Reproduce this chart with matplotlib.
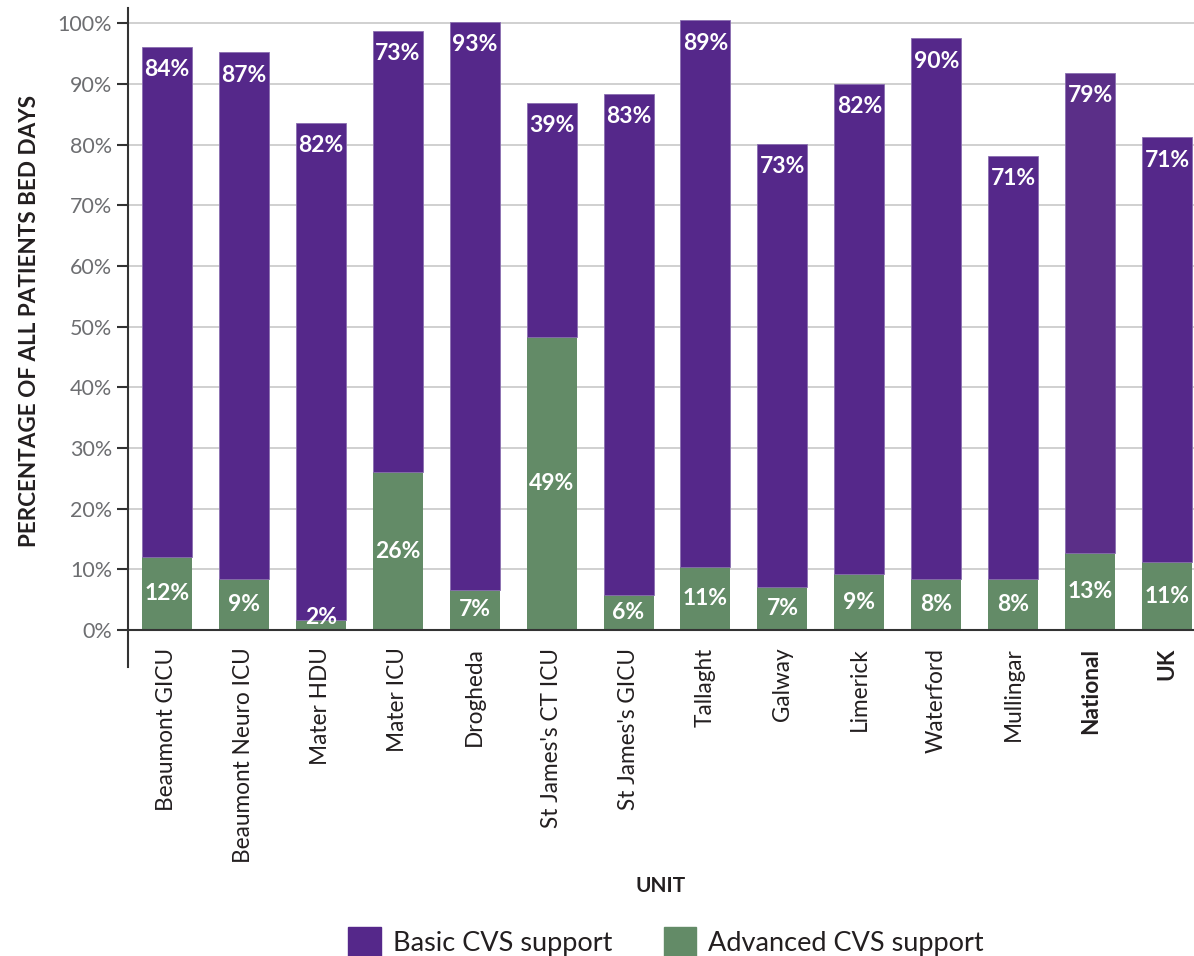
import matplotlib
matplotlib.use("Agg")
import matplotlib.pyplot as plt
from matplotlib.patches import Patch
import numpy as np

plt.rcParams['font.family'] = ['Lato', 'DejaVu Sans']

# units on the x axis
units = ['Beaumont GICU', 'Beaumont Neuro ICU', 'Mater HDU', 'Mater ICU', 'Drogheda',
         "St James's CT ICU", "St James's GICU", 'Tallaght', 'Galway', 'Limerick',
         'Waterford', 'Mullingar', 'National', 'UK']

# segment heights (% of bed days)
advanced = [12.0, 8.4, 1.7, 26.0, 6.6, 48.3, 5.8, 10.4, 7.1, 9.2, 8.4, 8.4, 12.7, 11.2]
basic = [84.1, 86.8, 81.9, 72.7, 93.6, 38.6, 82.6, 90.1, 73.0, 80.8, 89.1, 69.7, 79.1, 70.0]

# printed labels
advanced_lbl = ['12%', '9%', '2%', '26%', '7%', '49%', '6%', '11%', '7%', '9%', '8%', '8%', '13%', '11%']
basic_lbl = ['84%', '87%', '82%', '73%', '93%', '39%', '83%', '89%', '73%', '82%', '90%', '71%', '79%', '71%']

purple = '#55288a'
purple_nat = '#5b2f88'
green = '#638b67'
grey_txt = '#6d6e71'

fig = plt.figure(figsize=(11.94, 9.56), dpi=100)
ax = fig.add_axes([128/1194, (956-667)/956, 1-128/1194, (667-8)/956])

x = np.arange(len(units))
w = 0.65
top_cols = [purple_nat if u == 'National' else purple for u in units]
b1 = ax.bar(x, advanced, w, color=green, zorder=3)
b2 = ax.bar(x, basic, w, bottom=advanced, color=top_cols, zorder=3,
            edgecolor='#8a6fb0', linewidth=0.6)

for i in range(len(units)):
    ax.text(x[i], max(advanced[i]/2, 2.1), advanced_lbl[i], ha='center', va='center',
            color='white', fontsize=16.5, fontweight='bold', zorder=6)
    ax.annotate(basic_lbl[i], (x[i], advanced[i] + basic[i]), xytext=(0, -16.5),
                textcoords='offset points', ha='center', va='center',
                color='white', fontsize=16.5, fontweight='bold', zorder=6)

ax.set_xlim(-0.506, 13.35)
ax.set_ylim(-6.1, 102.5)
ax.set_yticks(range(0, 101, 10))
ax.set_yticklabels([f'{v}%' for v in range(0, 101, 10)], color=grey_txt, fontsize=15.5)
ax.yaxis.grid(True, color='#c8c8c8', linewidth=1.2, zorder=0)
ax.set_axisbelow(True)
ax.tick_params(axis='y', length=8, width=1.5, color='#333333', pad=3.5)

ax.set_xticks(x)
ax.set_xticklabels(units, rotation=90, fontsize=16.3, color='#231f20', va='top')
for t in ax.get_xticklabels():
    if t.get_text() in ('National', 'UK'):
        t.set_fontweight('bold')
ax.tick_params(axis='x', length=0, pad=-14)

for s in ['top', 'right', 'bottom']:
    ax.spines[s].set_visible(False)
ax.spines['left'].set_color('#333333')
ax.spines['left'].set_linewidth(1.5)
ax.axhline(0, color='#333333', linewidth=1.5, zorder=5)

fig.text(30/1194, 1-321/956, 'PERCENTAGE OF ALL PATIENTS BED DAYS', rotation=90,
         ha='center', va='center', fontsize=16.2, fontweight='bold', color='#231f20')
fig.text(661/1194, 1-886/956, 'UNIT', ha='center', va='center', fontsize=15,
         fontweight='bold', color='#231f20')

handles = [Patch(color=purple, label='Basic CVS support'),
           Patch(color=green, label='Advanced CVS support')]
fig.legend(handles=handles, loc='center', bbox_to_anchor=(666/1194, 1-942/956), ncol=2,
           frameon=False, fontsize=19.5, handlelength=1.2, handleheight=1.3,
           handletextpad=0.45, columnspacing=1.9, labelcolor='#231f20')

fig.savefig('out.png', dpi=100)
